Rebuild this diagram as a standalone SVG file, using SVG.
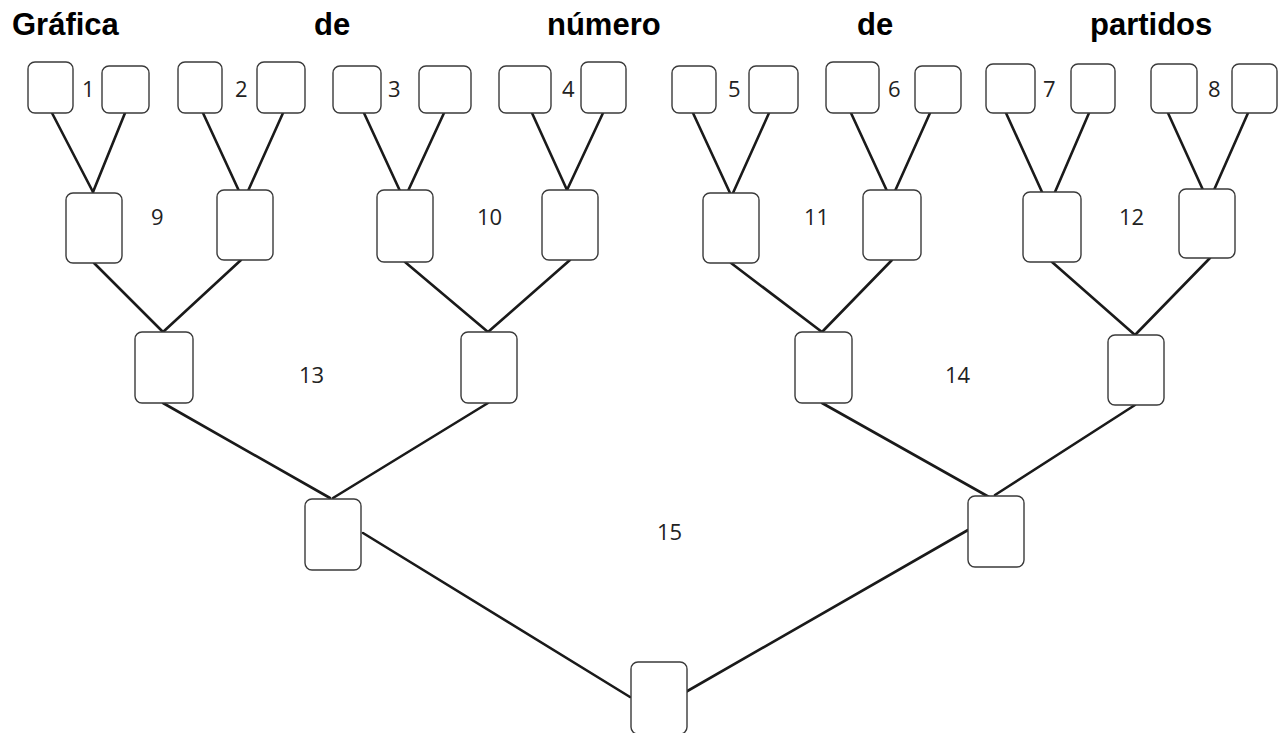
<svg xmlns="http://www.w3.org/2000/svg" width="1287" height="733" viewBox="0 0 1287 733">
<style>
.t{font-family:"Liberation Sans",Arial,sans-serif;font-weight:bold;font-size:31px;fill:#000}
.n{font-family:"Open Sans","Liberation Sans",sans-serif;font-size:22px;fill:#222}
.b{fill:#fff;stroke:#3a3a3a;stroke-width:1.4}
.c line{stroke:#1a1a1a;stroke-width:2.6;stroke-linecap:round}
</style>
<rect width="1287" height="733" fill="#fff"/>
<g id="title">
<text class="t" x="12" y="35">Gráfica</text>
<text class="t" x="314" y="35">de</text>
<text class="t" x="547" y="35">número</text>
<text class="t" x="857" y="35">de</text>
<text class="t" x="1090" y="35">partidos</text>
</g>
<g id="connectors" class="c">
<line x1="52" y1="113" x2="93" y2="192"/>
<line x1="125" y1="113" x2="93" y2="192"/>
<line x1="203" y1="113" x2="239" y2="191"/>
<line x1="283" y1="113" x2="248" y2="191"/>
<line x1="364" y1="113" x2="400" y2="191"/>
<line x1="444" y1="113" x2="408" y2="191"/>
<line x1="532" y1="113" x2="567" y2="190"/>
<line x1="603" y1="113" x2="567" y2="190"/>
<line x1="693" y1="113" x2="730" y2="193"/>
<line x1="769" y1="113" x2="733" y2="193"/>
<line x1="851" y1="113" x2="887" y2="191"/>
<line x1="930" y1="113" x2="895" y2="191"/>
<line x1="1006" y1="113" x2="1042" y2="192"/>
<line x1="1089" y1="113" x2="1055" y2="192"/>
<line x1="1168" y1="113" x2="1203" y2="190"/>
<line x1="1248" y1="113" x2="1214" y2="190"/>
<line x1="94" y1="263" x2="163" y2="332"/>
<line x1="241" y1="260" x2="163" y2="332"/>
<line x1="405" y1="262" x2="488" y2="332"/>
<line x1="570" y1="260" x2="488" y2="332"/>
<line x1="731" y1="263" x2="822" y2="332"/>
<line x1="892" y1="260" x2="822" y2="332"/>
<line x1="1052" y1="262" x2="1135" y2="335"/>
<line x1="1210" y1="258" x2="1135" y2="335"/>
<line x1="163" y1="403" x2="330" y2="498"/>
<line x1="488" y1="403" x2="333" y2="498"/>
<line x1="822" y1="403" x2="989" y2="497"/>
<line x1="1135" y1="405" x2="995" y2="495"/>
<line x1="363" y1="533" x2="630" y2="697"/>
<line x1="968" y1="530" x2="677" y2="697"/>
</g>
<g id="n1a"><rect class="b" x="28" y="62" width="45" height="51" rx="7"/></g>
<g id="n1b"><rect class="b" x="102" y="66" width="47" height="47" rx="7"/></g>
<g id="n2a"><rect class="b" x="178" y="62" width="44" height="51" rx="7"/></g>
<g id="n2b"><rect class="b" x="257" y="62" width="48" height="51" rx="7"/></g>
<g id="n3a"><rect class="b" x="333" y="66" width="48" height="47" rx="7"/></g>
<g id="n3b"><rect class="b" x="419" y="66" width="52" height="47" rx="7"/></g>
<g id="n4a"><rect class="b" x="499" y="66" width="52" height="47" rx="7"/></g>
<g id="n4b"><rect class="b" x="581" y="62" width="45" height="51" rx="7"/></g>
<g id="n5a"><rect class="b" x="672" y="66" width="44" height="47" rx="7"/></g>
<g id="n5b"><rect class="b" x="749" y="66" width="49" height="47" rx="7"/></g>
<g id="n6a"><rect class="b" x="826" y="62" width="53" height="51" rx="7"/></g>
<g id="n6b"><rect class="b" x="915" y="66" width="46" height="47" rx="7"/></g>
<g id="n7a"><rect class="b" x="986" y="64" width="49" height="49" rx="7"/></g>
<g id="n7b"><rect class="b" x="1071" y="64" width="44" height="49" rx="7"/></g>
<g id="n8a"><rect class="b" x="1151" y="64" width="46" height="49" rx="7"/></g>
<g id="n8b"><rect class="b" x="1232" y="64" width="45" height="49" rx="7"/></g>
<g id="n9a"><rect class="b" x="66" y="193" width="56" height="70" rx="7"/></g>
<g id="n9b"><rect class="b" x="217" y="190" width="56" height="70" rx="7"/></g>
<g id="n10a"><rect class="b" x="377" y="190" width="56" height="72" rx="7"/></g>
<g id="n10b"><rect class="b" x="542" y="190" width="56" height="70" rx="7"/></g>
<g id="n11a"><rect class="b" x="703" y="193" width="56" height="70" rx="7"/></g>
<g id="n11b"><rect class="b" x="863" y="190" width="58" height="70" rx="7"/></g>
<g id="n12a"><rect class="b" x="1023" y="192" width="58" height="70" rx="7"/></g>
<g id="n12b"><rect class="b" x="1179" y="189" width="56" height="69" rx="7"/></g>
<g id="n13a"><rect class="b" x="135" y="332" width="58" height="71" rx="7"/></g>
<g id="n13b"><rect class="b" x="461" y="332" width="56" height="71" rx="7"/></g>
<g id="n14a"><rect class="b" x="795" y="332" width="57" height="71" rx="7"/></g>
<g id="n14b"><rect class="b" x="1108" y="335" width="56" height="70" rx="7"/></g>
<g id="n15a"><rect class="b" x="305" y="499" width="56" height="71" rx="7"/></g>
<g id="n15b"><rect class="b" x="968" y="496" width="56" height="71" rx="7"/></g>
<g id="final"><rect class="b" x="631" y="662" width="56" height="72" rx="7"/></g>
<g id="labels">
<text class="n" x="82" y="97">1</text>
<text class="n" x="235" y="97">2</text>
<text class="n" x="388" y="97">3</text>
<text class="n" x="562" y="97">4</text>
<text class="n" x="728" y="97">5</text>
<text class="n" x="888" y="97">6</text>
<text class="n" x="1043" y="97">7</text>
<text class="n" x="1208" y="97">8</text>
<text class="n" x="151" y="225">9</text>
<text class="n" x="477" y="225">10</text>
<text class="n" x="804" y="225">11</text>
<text class="n" x="1119" y="225">12</text>
<text class="n" x="299" y="383">13</text>
<text class="n" x="945" y="383">14</text>
<text class="n" x="657" y="540">15</text>
</g>
</svg>
